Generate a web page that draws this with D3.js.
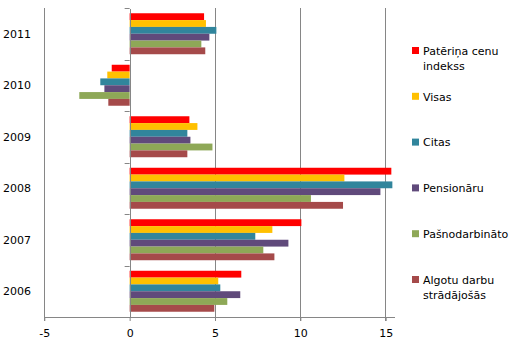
<!DOCTYPE html>
<html><head><meta charset="utf-8">
<script src="https://cdn.jsdelivr.net/npm/d3@7"></script>
<style>body{margin:0;background:#fff}svg{display:block}text{font-family:"DejaVu Sans",Verdana,sans-serif;font-size:11px;fill:#000}</style>
</head><body><svg id="c" width="526" height="358"></svg>
<script>
const years = ["2006","2007","2008","2009","2010","2011"];
const seriesNames = ["Patēriņa cenu indekss","Visas","Citas","Pensionāru","Pašnodarbināto","Algotu darbu strādājošās"];
const seriesColors = ["#FF0000","#FFC000","#31859C","#604A7B","#8EA857","#A54A4A"];
const pateirna   = [6.54, 10.06, 15.33, 3.50, -1.05, 4.36];
const visas      = [5.19, 8.36, 12.58, 3.97, -1.31, 4.47];
const citas      = [5.31, 7.36, 15.39, 3.38, -1.72, 5.08];
const pensionaru = [6.48, 9.30, 14.69, 3.56, -1.48, 4.67];
const pasnodarb  = [5.72, 7.83, 10.62, 4.85, -2.95, 4.20];
const algotu     = [4.96, 8.48, 12.50, 3.38, -1.25, 4.43];
const xTicks = [-5, 0, 5, 10, 15];
const legendLines = [["Patēriņa cenu","indekss"],["Visas"],["Citas"],["Pensionāru"],["Pašnodarbināto"],["Algotu darbu","strādājošās"]];

const values = [pateirna, visas, citas, pensionaru, pasnodarb, algotu];
const svg = d3.select("#c");
const L = 44.3, R = 395, T = 8, B = 317;
const x = d3.scaleLinear().domain([-5, 15.55]).range([L, 44.3 + 20.55*17.07]);
const y = d3.scaleBand().domain(years.slice().reverse()).range([T, B]).paddingInner(0).paddingOuter(0);
const inner = d3.scaleBand().domain(d3.range(6)).range([0, y.bandwidth()]).paddingOuter(0.77).paddingInner(0);

// gridlines
svg.append("g").selectAll("line").data(xTicks.filter(d=>d!==0)).join("line")
  .attr("x1", d=>x(d)).attr("x2", d=>x(d)).attr("y1", T).attr("y2", B+4)
  .attr("stroke", "#868686").attr("stroke-width", 1).attr("shape-rendering","crispEdges");

// bars
const g = svg.append("g");
years.forEach((yr, i) => {
  values.forEach((arr, s) => {
    const v = arr[i];
    g.append("rect")
      .attr("x", x(Math.min(0, v)))
      .attr("width", Math.abs(x(v) - x(0)))
      .attr("y", y(yr) + inner(s))
      .attr("height", inner.bandwidth())
      .attr("fill", seriesColors[s]);
  });
});

// bottom axis
const xAxis = d3.axisBottom(x).tickValues(xTicks).tickFormat(d => String(d)).tickSize(4).tickSizeOuter(0).tickPadding(8);
const ax = svg.append("g").attr("transform", `translate(0,${B})`).call(xAxis);
ax.select(".domain").attr("d", `M${L},0.5H${R}`).attr("stroke","#868686");
ax.selectAll(".tick line").attr("stroke","#868686");
ax.selectAll("text").style("font-size","11px").style("font-family","DejaVu Sans").attr("fill","#000");

// left axis at zero
const yAxis = d3.axisLeft(y).tickSize(0).tickFormat(()=>"" );
const ay = svg.append("g").attr("transform", `translate(${x(0)},0)`).call(yAxis);
ay.select(".domain").attr("stroke","#868686").attr("shape-rendering","crispEdges");
// category boundary ticks
const bounds = years.map(d => y(d)).concat([B]);
ay.selectAll(".bt").data(bounds).join("line").attr("class","bt")
  .attr("x1",-5).attr("x2",0).attr("y1",d=>Math.round(d)+0.5).attr("y2",d=>Math.round(d)+0.5)
  .attr("stroke","#868686");
// category labels at left edge
svg.append("g").selectAll("text").data(years).join("text")
  .attr("x", 3).attr("y", d=>y(d)+y.bandwidth()/2).attr("dy","0.35em").text(d=>d);

// legend
const lg = svg.append("g");
legendLines.forEach((lines, i) => {
  const cy = 51 + i*45.8;
  lg.append("rect").attr("x", 412).attr("y", cy-4).attr("width", 7).attr("height", 7).attr("fill", seriesColors[i]);
  lines.forEach((t, k) => {
    lg.append("text").attr("x", 423).attr("y", cy + k*15.5).attr("dy","0.35em").text(t);
  });
});
</script></body></html>
